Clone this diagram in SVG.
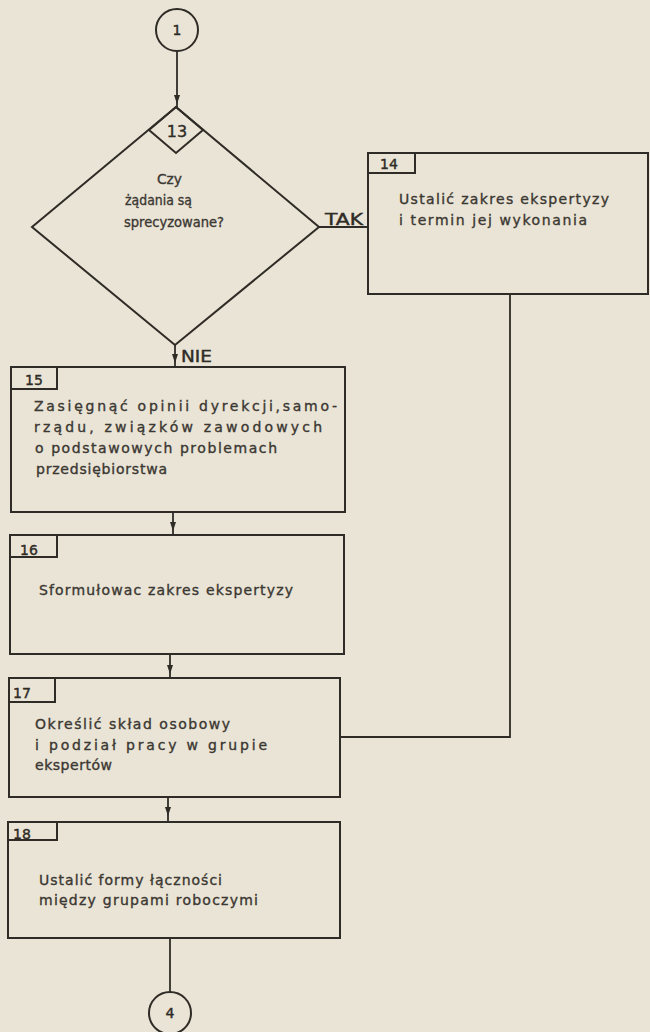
<svg xmlns="http://www.w3.org/2000/svg" width="650" height="1032" viewBox="0 0 650 1032">
  <defs>
    <style>
      .bg { fill: #e9e4d5; }
      .shape { fill: none; stroke: #2f2b26; stroke-width: 2; }
      .wire { fill: none; stroke: #2f2b26; stroke-width: 1.8; }
      .txt { font-family: "DejaVu Sans", "Liberation Sans", sans-serif; font-size: 14px; fill: #3b3732; stroke: #3b3732; stroke-width: 0.35; }
      .num { font-family: "DejaVu Sans", "Liberation Sans", sans-serif; font-size: 14px; fill: #2f2b26; stroke: #2f2b26; stroke-width: 0.4; }
      .lbl { font-family: "DejaVu Sans", "Liberation Sans", sans-serif; font-size: 15px; fill: #2f2b26; stroke: #2f2b26; stroke-width: 0.4; }
    </style>
    <!-- small downward arrowhead placed mid-connector, tip at origin -->
    <path id="ah" d="M-3,-9 L3,-9 L0,0 Z" fill="#2f2b26"/>
  </defs>

  <rect class="bg" x="0" y="0" width="650" height="1032"/>

  <!-- connectors -->
  <g id="connectors">
    <line class="wire" x1="177" y1="51" x2="177" y2="107"/>
    <use href="#ah" x="177" y="104"/>

    <!-- TAK branch -->
    <line class="wire" x1="319" y1="227" x2="368" y2="227"/>
    <text class="lbl" x="325" y="225" textLength="38" lengthAdjust="spacingAndGlyphs">TAK</text>

    <!-- NIE branch -->
    <line class="wire" x1="175" y1="345" x2="175" y2="367"/>
    <use href="#ah" x="175" y="363"/>
    <text class="lbl" x="181" y="362" textLength="31" lengthAdjust="spacingAndGlyphs">NIE</text>

    <line class="wire" x1="173" y1="512" x2="173" y2="535"/>
    <use href="#ah" x="173" y="531"/>

    <line class="wire" x1="170" y1="654" x2="170" y2="678"/>
    <use href="#ah" x="170" y="674"/>

    <line class="wire" x1="168" y1="797" x2="168" y2="822"/>
    <use href="#ah" x="168" y="816"/>

    <line class="wire" x1="170" y1="938" x2="170" y2="992"/>

    <!-- return path from 14 into 17 -->
    <polyline class="wire" points="510,294 510,737 340,737"/>
  </g>

  <!-- connector 1 -->
  <g id="n-c1">
    <circle class="shape" cx="177" cy="30" r="21"/>
    <text class="num" x="177" y="35" text-anchor="middle">1</text>
  </g>

  <!-- decision 13 -->
  <g id="n-13">
    <polygon class="shape" points="176,107 319,227 175,345 32,227"/>
    <polygon class="shape" points="176,107 203,130 176,153 149,130"/>
    <text class="lbl" x="177" y="137" text-anchor="middle" style="font-size:16px">13</text>
    <text class="txt" x="157" y="184" textLength="25" lengthAdjust="spacingAndGlyphs">Czy</text>
    <text class="txt" x="125" y="205" textLength="67" lengthAdjust="spacingAndGlyphs">żądania są</text>
    <text class="txt" x="124" y="227" textLength="100" lengthAdjust="spacingAndGlyphs">sprecyzowane?</text>
  </g>

  <!-- step 14 -->
  <g id="n-14">
    <rect class="shape" x="368" y="153" width="280" height="141"/>
    <polyline class="shape" points="368,173 415,173 415,153"/>
    <text class="num" x="380" y="169">14</text>
    <text class="txt" x="399" y="204" textLength="210" lengthAdjust="spacing">Ustalić zakres ekspertyzy</text>
    <text class="txt" x="399" y="225" textLength="188" lengthAdjust="spacing">i termin jej wykonania</text>
  </g>

  <!-- step 15 -->
  <g id="n-15">
    <rect class="shape" x="11" y="367" width="334" height="145"/>
    <polyline class="shape" points="11,389 57,389 57,367"/>
    <text class="num" x="25" y="385">15</text>
    <text class="txt" x="34" y="411" textLength="303" lengthAdjust="spacing">Zasięgnąć opinii dyrekcji,samo-</text>
    <text class="txt" x="34" y="432" textLength="288" lengthAdjust="spacing">rządu, związków zawodowych</text>
    <text class="txt" x="35" y="453" textLength="242" lengthAdjust="spacing">o podstawowych problemach</text>
    <text class="txt" x="36" y="474" textLength="131" lengthAdjust="spacing">przedsiębiorstwa</text>
  </g>

  <!-- step 16 -->
  <g id="n-16">
    <rect class="shape" x="10" y="535" width="334" height="119"/>
    <polyline class="shape" points="10,557 57,557 57,535"/>
    <text class="num" x="20" y="555">16</text>
    <text class="txt" x="39" y="595" textLength="254" lengthAdjust="spacing">Sformułowac zakres ekspertyzy</text>
  </g>

  <!-- step 17 -->
  <g id="n-17">
    <rect class="shape" x="9" y="678" width="331" height="119"/>
    <polyline class="shape" points="9,702 55,702 55,678"/>
    <text class="num" x="13" y="698">17</text>
    <text class="txt" x="35" y="729" textLength="195" lengthAdjust="spacing">Określić skład osobowy</text>
    <text class="txt" x="35" y="750" textLength="232" lengthAdjust="spacing">i podział pracy w grupie</text>
    <text class="txt" x="35" y="770" textLength="77" lengthAdjust="spacing">ekspertów</text>
  </g>

  <!-- step 18 -->
  <g id="n-18">
    <rect class="shape" x="8" y="822" width="332" height="116"/>
    <polyline class="shape" points="8,840 57,840 57,822"/>
    <text class="num" x="13" y="839">18</text>
    <text class="txt" x="39" y="885" textLength="183" lengthAdjust="spacing">Ustalić formy łączności</text>
    <text class="txt" x="39" y="905" textLength="219" lengthAdjust="spacing">między grupami roboczymi</text>
  </g>

  <!-- connector 4 -->
  <g id="n-c4">
    <circle class="shape" cx="170" cy="1013" r="21"/>
    <text class="num" x="170" y="1018" text-anchor="middle">4</text>
  </g>
</svg>
